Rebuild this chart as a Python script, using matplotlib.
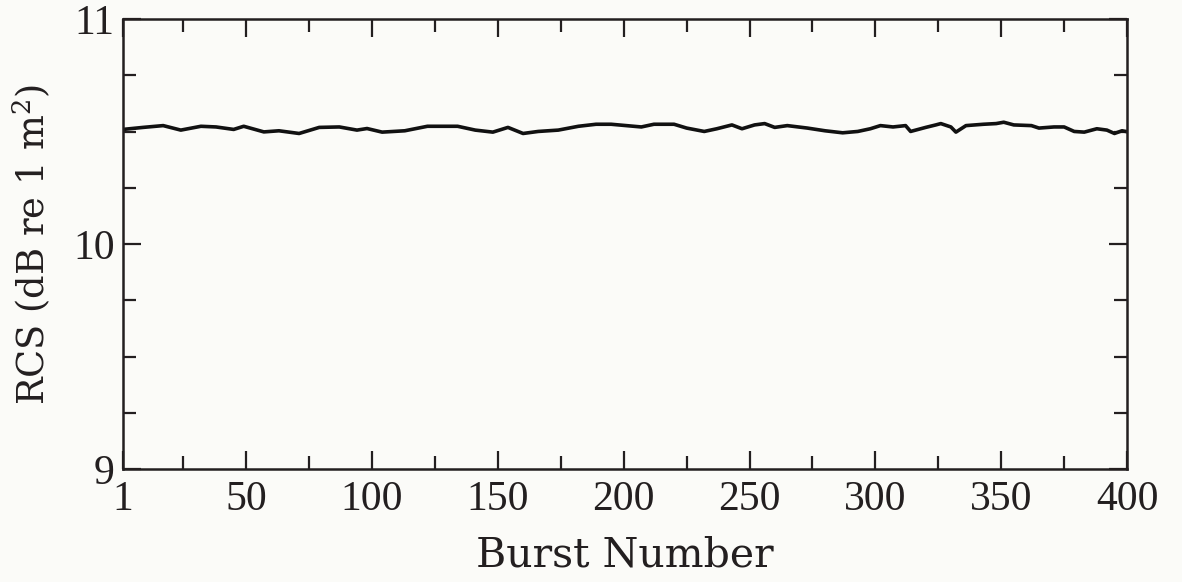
import matplotlib
matplotlib.use("Agg")
import matplotlib.pyplot as plt
from matplotlib.ticker import FixedLocator, MultipleLocator

# Values (burst number, RCS in dB re 1 m^2)
burst = [1, 9, 17, 24, 32, 38, 45, 49, 57, 63, 71, 79, 87, 94, 98,
         104, 113, 122, 134, 141, 148, 154, 160, 166, 174, 182, 189, 195,
         201, 207, 212, 220, 225, 232, 237, 243, 247, 252, 256, 260, 265,
         273, 280, 287, 293, 298, 302, 307, 312, 314, 320, 324, 326, 330,
         332, 336, 343, 348, 351, 355, 362, 365, 371, 375, 379, 383, 388,
         392, 395, 398, 400]
rcs = [10.510, 10.519, 10.527, 10.507, 10.524, 10.521, 10.510, 10.524,
       10.499, 10.504, 10.492, 10.519, 10.521, 10.507, 10.514,
       10.498, 10.504, 10.524, 10.524, 10.507, 10.498, 10.519, 10.492,
       10.501, 10.507, 10.524, 10.533, 10.533,
       10.527, 10.521, 10.533, 10.533, 10.516, 10.501, 10.513, 10.530,
       10.513, 10.530, 10.536, 10.519, 10.527,
       10.516, 10.504, 10.495, 10.501, 10.513, 10.527, 10.521, 10.527,
       10.501, 10.519, 10.530, 10.536, 10.521,
       10.498, 10.527, 10.533, 10.536, 10.542, 10.530, 10.527, 10.516,
       10.521, 10.521, 10.501, 10.498, 10.513,
       10.507, 10.492, 10.504, 10.500]

x_major = [1, 50, 100, 150, 200, 250, 300, 350, 400]
x_minor = [25, 75, 125, 175, 225, 275, 325, 375]

ink = "#231f20"
bg = "#fbfbf8"

plt.rcParams["font.family"] = "DejaVu Serif"
plt.rcParams["mathtext.fontset"] = "dejavuserif"

fig = plt.figure(figsize=(11.82, 5.82), dpi=100, facecolor=bg)
ax = fig.add_axes([0.104, 0.194, 0.8495, 0.773], facecolor=bg)

ax.plot(burst, rcs, color="#111111", linewidth=2.6)

ax.set_xlim(1, 400)
ax.set_ylim(9, 11)
ax.xaxis.set_major_locator(FixedLocator(x_major))
ax.xaxis.set_minor_locator(FixedLocator(x_minor))
ax.yaxis.set_major_locator(MultipleLocator(1))
ax.yaxis.set_minor_locator(MultipleLocator(0.25))

ax.tick_params(which="both", direction="in", top=True, right=True,
               color=ink, width=1.6, labelcolor=ink)
ax.tick_params(which="major", length=13)
ax.tick_params(which="minor", length=9.5)
ax.tick_params(axis="x", which="major", pad=8)
ax.tick_params(axis="y", which="major", pad=6)

for lab in ax.get_xticklabels() + ax.get_yticklabels():
    lab.set_family("Liberation Serif")
    lab.set_fontsize(30)

for s in ax.spines.values():
    s.set_linewidth(1.8)
    s.set_color(ink)

ax.set_xlabel("Burst Number", fontsize=29.5, color=ink, labelpad=12)
ax.set_ylabel("RCS (dB re 1 m$^{2}$)", fontsize=26.5, color=ink, labelpad=14)

fig.savefig("out.png", dpi=100, facecolor=bg)
plt.close(fig)
